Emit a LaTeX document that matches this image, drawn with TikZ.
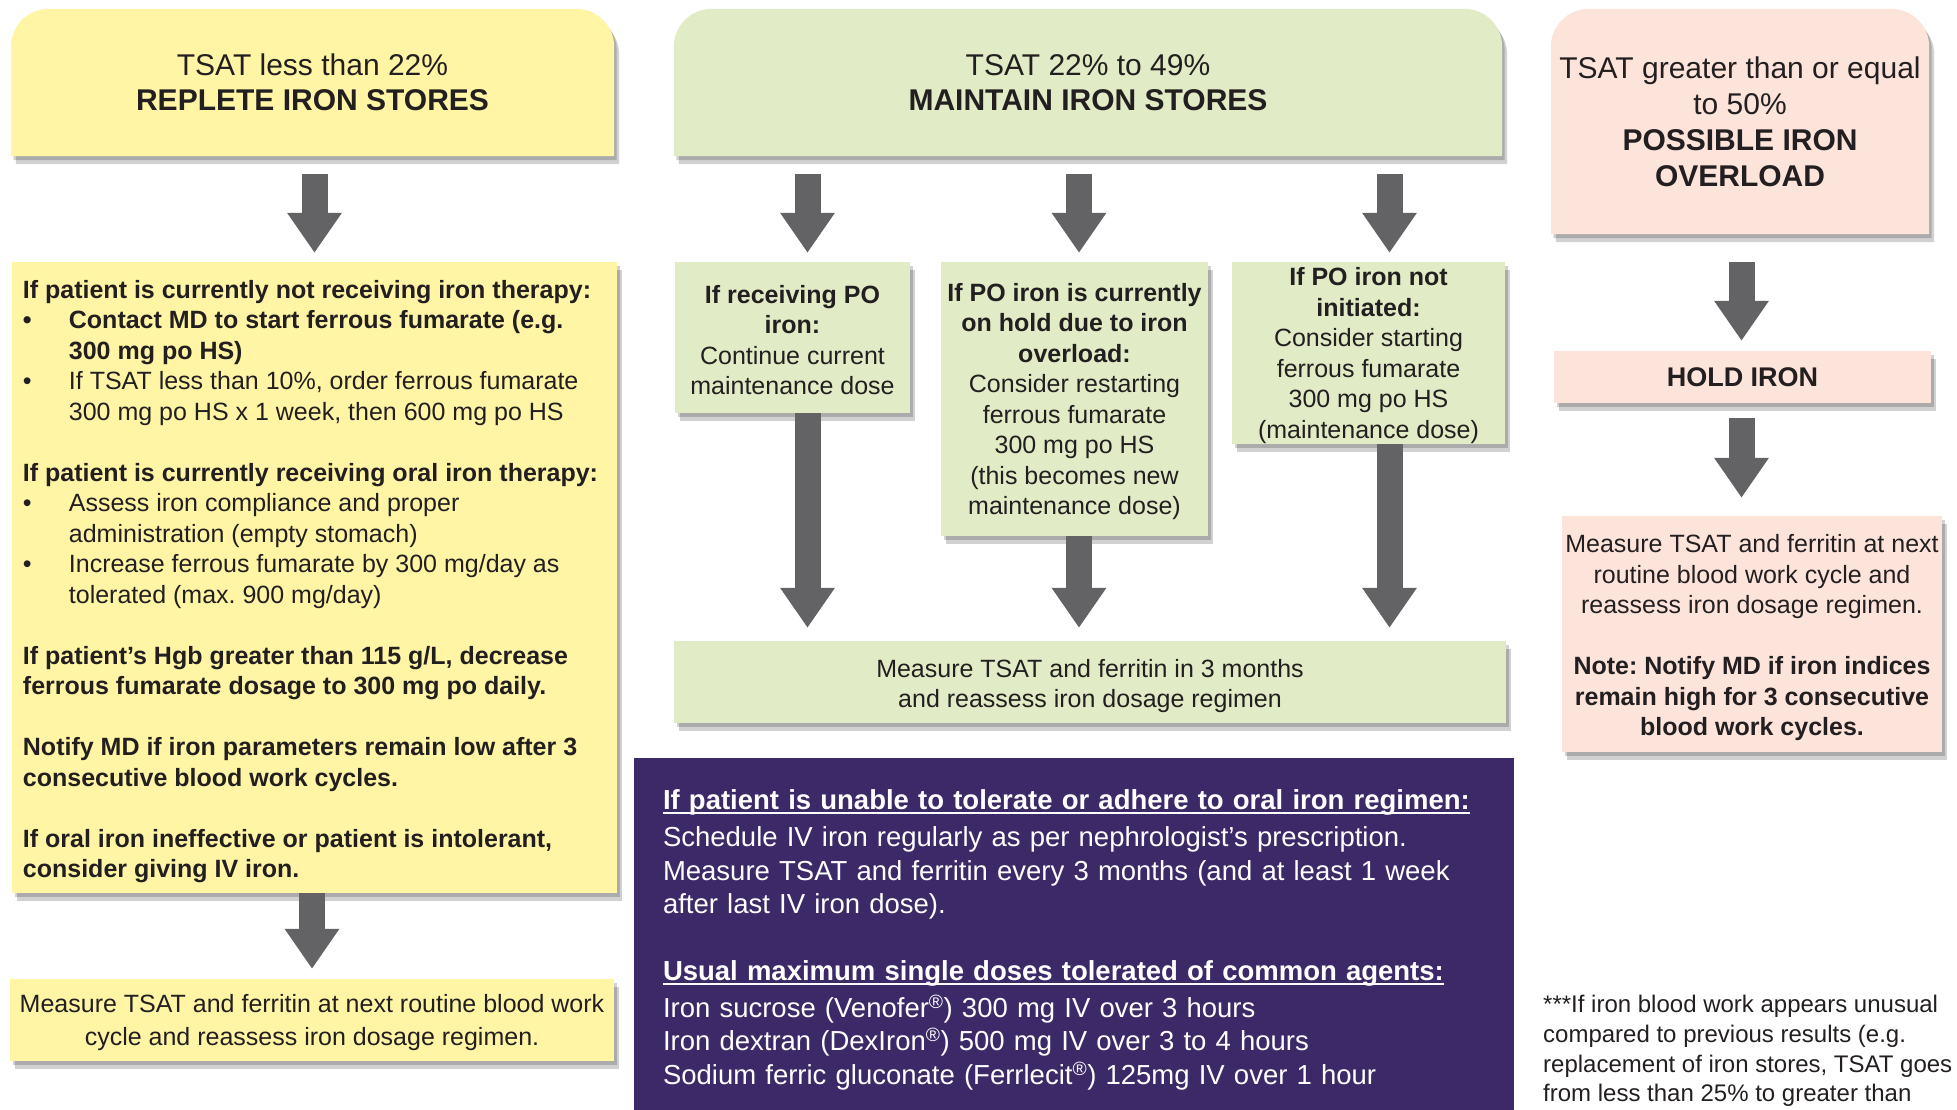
\documentclass[tikz,border=0pt]{standalone}
\usepackage{fontspec}
\setmainfont{Liberation Sans}
\usetikzlibrary{arrows.meta,shadows,calc}
\pgfdeclarelayer{bg}
\pgfsetlayers{bg,main}
\definecolor{ylw}{HTML}{FFF5A5}
\definecolor{grn}{HTML}{E1EBC5}
\definecolor{pnk}{HTML}{FDE4DA}
\definecolor{purp}{HTML}{3C2968}
\definecolor{agray}{HTML}{636366}
\definecolor{ink}{HTML}{231F20}
\newcommand\myul[1]{\leavevmode\setbox0\hbox{#1}\rlap{\rule[-4.5pt]{\wd0}{2pt}}\box0}
\frenchspacing
\tikzset{
  boxshadow/.style={general shadow={shadow xshift=2.5pt,shadow yshift=-4pt,fill=black,opacity=0.18},
                    general shadow={shadow xshift=5pt,shadow yshift=-8pt,fill=black,opacity=0.18}},
  box/.style={inner sep=0pt, text=ink, align=center, font=\fontsize{25}{30.5}\selectfont\frenchspacing},
  titlefont/.style={font=\fontsize{30}{35}\selectfont},
  bigarrow/.style={draw=agray, line width=26pt, -{Triangle[length=40pt,width=52pt]}},
}
\begin{document}
\begin{tikzpicture}[x=1pt,y=-1pt]
\useasboundingbox (0,0) rectangle (1957,1109);

% ---------- title boxes (shapes drawn on background layer) ----------
\node[box, titlefont, minimum width=603pt, minimum height=147pt] (t1) at (312.5,82.5)
  {TSAT less than 22\%\\\textbf{REPLETE IRON STORES}};
\node[box, titlefont, minimum width=828pt, minimum height=147pt] (t2) at (1088,82.5)
  {TSAT 22\% to 49\%\\\textbf{MAINTAIN IRON STORES}};
\node[box, font=\fontsize{30}{36}\selectfont, minimum width=378pt, minimum height=225pt] (t3) at (1740,121.5)
  {TSAT greater than or equal\\to 50\%\\\textbf{POSSIBLE IRON}\\\textbf{OVERLOAD}};

\begin{pgfonlayer}{bg}
\path[fill=ylw, boxshadow] (t1.south west) -- ([yshift=-38pt]t1.north west) arc[start angle=180,end angle=90,radius=38pt]
  -- ([xshift=-38pt]t1.north east) arc[start angle=90,end angle=0,radius=38pt] -- (t1.south east) -- cycle;
\path[fill=grn, boxshadow] (t2.south west) -- ([yshift=-38pt]t2.north west) arc[start angle=180,end angle=90,radius=38pt]
  -- ([xshift=-38pt]t2.north east) arc[start angle=90,end angle=0,radius=38pt] -- (t2.south east) -- cycle;
\path[fill=pnk, boxshadow] (t3.south west) -- ([yshift=-38pt]t3.north west) arc[start angle=180,end angle=90,radius=38pt]
  -- ([xshift=-38pt]t3.north east) arc[start angle=90,end angle=0,radius=38pt] -- (t3.south east) -- cycle;
\end{pgfonlayer}

% ---------- left column ----------
\node[box, fill=ylw, boxshadow, align=left, minimum width=605pt, minimum height=631pt] (L1) at (314.5,577.5)
{\rule{0pt}{26pt}\textbf{If patient is currently not receiving iron therapy:}\\
 \textbf{\makebox[46pt][l]{•}Contact MD to start ferrous fumarate (e.g.}\\
 \hspace*{46pt}\textbf{300 mg po HS)}\\
 \makebox[46pt][l]{•}If TSAT less than 10\%, order ferrous fumarate\\
 \hspace*{46pt}300 mg po HS x 1 week, then 600 mg po HS\\[30.5pt]
 \textbf{If patient is currently receiving oral iron therapy:}\rule{8pt}{0pt}\\
 \makebox[46pt][l]{•}Assess iron compliance and proper\\
 \hspace*{46pt}administration (empty stomach)\\
 \makebox[46pt][l]{•}Increase ferrous fumarate by 300 mg/day as\\
 \hspace*{46pt}tolerated (max. 900 mg/day)\\[30.5pt]
 \textbf{If patient’s Hgb greater than 115 g/L, decrease}\\
 \textbf{ferrous fumarate dosage to 300 mg po daily.}\\[30.5pt]
 \textbf{Notify MD if iron parameters remain low after 3}\\
 \textbf{consecutive blood work cycles.}\\[30.5pt]
 \textbf{If oral iron ineffective or patient is intolerant,}\\
 \textbf{consider giving IV iron.}};

\node[box, fill=ylw, boxshadow, font=\fontsize{25}{33}\selectfont, minimum width=604pt, minimum height=82pt] (L2) at (312,1020)
  {\rule{0pt}{22.5pt}Measure TSAT and ferritin at next routine blood work\\cycle and reassess iron dosage regimen.};

% ---------- middle column ----------
\node[box, fill=grn, boxshadow, minimum width=235pt, minimum height=151pt] (m1) at (792.5,337.5)
  {\rule{0pt}{23pt}\textbf{If receiving PO}\\\textbf{iron:}\\Continue current\\maintenance dose};
\node[box, fill=grn, boxshadow, minimum width=267pt, minimum height=274pt] (m2) at (1074.5,399)
  {\rule{0pt}{23.5pt}\textbf{If PO iron is currently}\\\textbf{on hold due to iron}\\\textbf{overload:}\\Consider restarting\\ferrous fumarate\\300 mg po HS\\(this becomes new\\maintenance dose)};
\node[box, fill=grn, boxshadow, minimum width=273pt, minimum height=182pt] (m3) at (1368.5,353)
  {\rule{0pt}{23.5pt}\textbf{If PO iron not}\\\textbf{initiated:}\\Consider starting\\ferrous fumarate\\300 mg po HS\\(maintenance dose)};
\node[box, fill=grn, boxshadow, font=\fontsize{25}{30}\selectfont, minimum width=832pt, minimum height=82pt] (mb) at (1090,682)
  {\rule{0pt}{26pt}Measure TSAT and ferritin in 3 months\\and reassess iron dosage regimen};

\node[inner sep=0pt, fill=purp, text=white, align=left, font=\fontsize{27.5}{33.5}\selectfont,
      minimum width=880pt, minimum height=364pt, text width=822pt] (pu) at (1074,940)
{\myul{\textbf{If patient is unable to tolerate or adhere to oral iron regimen:}}\\[3.5pt]
 Schedule IV iron regularly as per nephrologist’s prescription.\\
 Measure TSAT and ferritin every 3 months (and at least 1 week\\
 after last IV iron dose).\\[33pt]
 \myul{\textbf{Usual maximum single doses tolerated of common agents:}}\\[3.5pt]
 Iron sucrose (Venofer\textsuperscript{®}) 300 mg IV over 3 hours\\
 Iron dextran (DexIron\textsuperscript{®}) 500 mg IV over 3 to 4 hours\\
 Sodium ferric gluconate (Ferrlecit\textsuperscript{®}) 125mg IV over 1 hour};

% ---------- right column ----------
\node[box, fill=pnk, boxshadow, font=\fontsize{27}{32}\selectfont, minimum width=377pt, minimum height=52pt] (hold) at (1742.5,377)
  {\textbf{HOLD IRON}};
\node[box, fill=pnk, boxshadow, minimum width=380pt, minimum height=236pt] (r3) at (1752,634)
  {\rule{0pt}{26pt}Measure TSAT and ferritin at next\\routine blood work cycle and\\reassess iron dosage regimen.\\[30.5pt]
   \textbf{Note: Notify MD if iron indices}\\\textbf{remain high for 3 consecutive}\\\textbf{blood work cycles.}};

\node[anchor=west, inner sep=0pt, align=left, text=ink, font=\fontsize{24}{29.7}\selectfont] (fn) at (1543,1051)
  {***If iron blood work appears unusual\\compared to previous results (e.g.\\replacement of iron stores, TSAT goes\\from less than 25\% to greater than};

% ---------- arrows ----------
\draw[bigarrow] ($(L1.north |- t1.south)+(0,18)$) -- ($(L1.north)+(0,-9)$);
\draw[bigarrow] (L2.north |- L1.south) -- ($(L2.north)+(0,-10)$);
\draw[bigarrow] ($(m1.north |- t2.south)+(15,18)$) -- ($(m1.north)+(15,-9)$);
\draw[bigarrow] ($(m2.north |- t2.south)+(4.5,18)$) -- ($(m2.north)+(4.5,-9)$);
\draw[bigarrow] ($(m3.north |- t2.south)+(21,18)$) -- ($(m3.north)+(21,-9)$);
\draw[bigarrow] ($(m1.south)+(15,0)$) -- ($(m1.south |- mb.north)+(15,-13)$);
\draw[bigarrow] ($(m2.south)+(4.5,0)$) -- ($(m2.south |- mb.north)+(4.5,-13)$);
\draw[bigarrow] ($(m3.south)+(21,0)$) -- ($(m3.south |- mb.north)+(21,-13)$);
\draw[bigarrow] ($(t3.south)+(1.5,28)$) -- ($(hold.north)+(-1,-10)$);
\draw[bigarrow] ($(hold.south)+(-1,15)$) -- ($(r3.north)+(-10.5,-18)$);
\end{tikzpicture}
\end{document}
